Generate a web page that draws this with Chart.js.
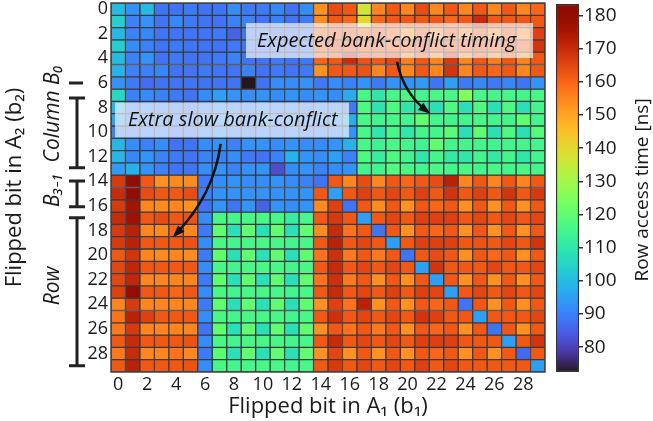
<!DOCTYPE html>
<html>
<head>
<meta charset="utf-8">
<script src="https://cdn.jsdelivr.net/npm/chart.js@4.4.0/dist/chart.umd.min.js"></script>
<style>
  html, body { margin: 0; padding: 0; background: #fff; }
  #wrap { position: relative; width: 653px; height: 421px; }
  #wrap canvas { position: absolute; left: 0; top: 0; }
</style>
</head>
<body>
<div id="wrap">
  <canvas id="heat" width="653" height="421"></canvas>
  <canvas id="cbar" width="653" height="421"></canvas>
</div>
<script>
// flipped bit in A1 (b1) -> columns, flipped bit in A2 (b2) -> rows
const bitLabels = ['0','1','2','3','4','5','6','7','8','9','10','11','12','13','14',
  '15','16','17','18','19','20','21','22','23','24','25','26','27','28','29'];
const rowTicks = [0, 2, 4, 6, 8, 10, 12, 14, 16, 18, 20, 22, 24, 26, 28];
const barTicks = [80, 90, 100, 110, 120, 130, 140, 150, 160, 170, 180];

// row access time [ns], one array per b2
const row00 = [100, 93, 100, 88, 88, 89, 88, 88, 92, 89, 89, 91, 88, 92, 153, 164, 162, 137, 155, 162, 155, 164, 155, 162, 155, 162, 155, 162, 155, 160];
const row01 = [104, 90, 93, 88, 91, 89, 88, 88, 90, 90, 88, 90, 88, 89, 154, 162, 160, 140, 160, 162, 162, 162, 162, 160, 162, 170, 162, 162, 162, 162];
const row02 = [99, 90, 91, 88, 88, 88, 88, 89, 85, 88, 89, 88, 88, 90, 160, 162, 162, 160, 162, 160, 155, 162, 155, 162, 155, 162, 155, 162, 155, 166];
const row03 = [104, 92, 90, 88, 89, 88, 88, 88, 89, 88, 88, 89, 88, 89, 162, 165, 164, 162, 163, 162, 162, 165, 162, 164, 162, 165, 162, 164, 162, 168];
const row04 = [100, 90, 93, 88, 89, 88, 88, 89, 90, 88, 88, 89, 88, 89, 160, 162, 170, 163, 162, 165, 156, 162, 155, 167, 155, 162, 156, 162, 155, 162];
const row05 = [98, 90, 90, 91, 88, 88, 89, 88, 88, 90, 88, 89, 88, 89, 153, 162, 162, 163, 155, 162, 155, 162, 155, 168, 155, 162, 160, 162, 155, 162];
const row06 = [93, 89, 87, 88, 88, 88, 88, 88, 88, 72.5, 88, 92, 92, 93, 89, 92, 90, 93, 89, 93, 93, 94, 88, 95, 89, 91, 89, 91, 88, 93];
const row07 = [106, 90, 92, 90, 89, 88, 92, 95, 93, 92, 93, 92, 93, 92, 93, 92, 97, 116, 110, 116, 116, 115, 116, 116, 125, 116, 115, 116, 115, 116];
const row08 = [98, 90, 91, 90, 89, 88, 90, 92, 91, 90, 92, 90, 91, 90, 91, 90, 89, 117, 109, 117, 110, 110, 108, 117, 108, 117, 108, 117, 108, 115];
const row09 = [96, 90, 92, 91, 90, 89, 92, 93, 92, 91, 93, 92, 93, 92, 92, 93, 97, 116, 115, 116, 115, 120, 115, 115, 115, 116, 115, 115, 120, 115];
const row10 = [90, 89, 90, 90, 88, 88, 90, 91, 90, 89, 90, 89, 90, 89, 90, 90, 93, 116, 110, 116, 110, 115, 115, 119, 108, 120, 108, 117, 108, 118];
const row11 = [99, 92, 90, 92, 88, 88, 92, 93, 90, 93, 93, 92, 93, 92, 92, 93, 98, 116, 114, 116, 115, 114, 120, 115, 115, 115, 114, 115, 115, 115];
const row12 = [99, 91, 93, 90, 89, 88, 90, 90, 92, 89, 88, 90, 98, 93, 92, 95, 90, 117, 112, 117, 115, 110, 115, 111, 110, 115, 111, 115, 110, 115];
const row13 = [94, 98, 93, 90, 88, 88, 92, 93, 90, 93, 93, 82, 92, 93, 90, 92, 93, 115, 115, 118, 116, 115, 116, 115, 116, 115, 116, 115, 116, 115];
const row14 = [167, 183.5, 162, 153, 154, 154, 89, 92, 93, 92, 92, 93, 92, 90, 88, 162, 155, 164, 155, 162, 160, 162, 164, 172, 155, 162, 155, 162, 155, 162];
const row15 = [170, 180, 164, 162, 162, 164, 90, 93, 93, 93, 93, 93, 93, 93, 162, 95, 162, 166, 162, 165, 162, 166, 162, 168, 162, 166, 162, 168, 162, 167];
const row16 = [167, 176, 155, 154, 155, 153, 88, 93, 88, 93, 85, 93, 92, 93, 154, 166, 88, 162, 154, 162, 153, 162, 160, 162, 153, 162, 153, 162, 153, 162];
const row17 = [170, 177, 162, 164, 162, 163, 92, 116, 115, 116, 116, 116, 112, 116, 162, 167, 162, 95, 162, 165, 162, 166, 166, 166, 162, 165, 162, 165, 162, 165];
const row18 = [167, 172, 155, 154, 160, 155, 89, 120, 108, 120, 108, 120, 108, 120, 154, 170, 158, 162, 88, 162, 153, 162, 160, 162, 153, 162, 153, 162, 153, 162];
const row19 = [167, 172, 162, 162, 162, 163, 92, 116, 115, 116, 116, 116, 115, 116, 162, 172, 162, 165, 162, 95, 162, 166, 166, 166, 162, 163, 162, 165, 162, 168];
const row20 = [162, 168, 155, 154, 155, 154, 89, 120, 108, 120, 108, 120, 108, 120, 158, 169, 157, 162, 157, 162, 88, 162, 164, 162, 153, 162, 160, 162, 153, 162];
const row21 = [165, 171, 162, 162, 162, 162, 92, 116, 115, 116, 116, 116, 115, 116, 162, 170, 162, 165, 162, 165, 162, 95, 168, 162, 162, 162, 165, 162, 162, 165];
const row22 = [165, 171, 155, 155, 155, 155, 89, 120, 108, 120, 108, 120, 108, 120, 158, 169, 157, 162, 153, 162, 153, 162, 95, 162, 153, 162, 153, 162, 153, 162];
const row23 = [166, 180, 162, 162, 160, 162, 92, 116, 115, 116, 116, 116, 115, 116, 162, 170, 162, 165, 162, 166, 162, 166, 165, 95, 162, 165, 162, 165, 162, 165];
const row24 = [155, 167, 155, 155, 155, 155, 89, 120, 108, 120, 108, 120, 108, 120, 153, 166, 158, 172, 153, 162, 153, 162, 160, 162, 88, 162, 153, 162, 153, 162];
const row25 = [158, 172, 166, 162, 162, 162, 92, 116, 115, 116, 116, 116, 115, 116, 162, 169, 162, 165, 162, 165, 162, 168, 166, 162, 162, 95, 162, 162, 162, 165];
const row26 = [157, 167, 155, 155, 155, 155, 88, 120, 108, 120, 108, 120, 108, 120, 153, 162, 158, 162, 157, 162, 153, 162, 160, 162, 153, 162, 88, 162, 153, 162];
const row27 = [162, 170, 162, 162, 162, 163, 92, 116, 115, 116, 116, 116, 115, 116, 162, 170, 162, 165, 162, 165, 162, 166, 166, 166, 162, 162, 162, 95, 162, 168];
const row28 = [157, 170, 155, 155, 158, 155, 89, 119, 108, 120, 108, 120, 108, 120, 153, 165, 153, 162, 153, 162, 153, 162, 160, 162, 153, 162, 153, 162, 86, 162];
const row29 = [162, 172, 162, 162, 162, 163, 92, 116, 115, 116, 116, 116, 115, 116, 162, 167, 162, 165, 162, 165, 162, 166, 162, 165, 162, 162, 162, 162, 162, 95];

const rows = [row00, row01, row02, row03, row04, row05, row06, row07, row08, row09,
  row10, row11, row12, row13, row14, row15, row16, row17, row18, row19,
  row20, row21, row22, row23, row24, row25, row26, row27, row28, row29];

const vMin = Math.min(...rows.flat());
const vMax = Math.max(...rows.flat());

const ink = '#1a1a1a';
const family = '"Open Sans", Lato, sans-serif';

// turbo colormap (polynomial fit)
function turbo(t) {
  t = Math.max(0, Math.min(1, t));
  const r = 0.13572138 + t*(4.61539260 + t*(-42.66032258 + t*(132.13108234 + t*(-152.94239396 + t*59.28637943))));
  const g = 0.09140261 + t*(2.19418839 + t*(4.84296658 + t*(-14.18503333 + t*(4.27729857 + t*2.82956604))));
  const b = 0.10667330 + t*(12.64194608 + t*(-60.58204836 + t*(110.36276771 + t*(-89.90310912 + t*27.34824973))));
  const c = v => Math.round(255 * Math.max(0, Math.min(1, v)));
  return 'rgb(' + c(r) + ',' + c(g) + ',' + c(b) + ')';
}
const colorOf = v => turbo((v - vMin) / (vMax - vMin));

function arrow(ctx, x0, y0, cx, cy, x1, y1) {
  ctx.beginPath();
  ctx.moveTo(x0, y0);
  ctx.quadraticCurveTo(cx, cy, x1, y1);
  ctx.stroke();
  const ang = Math.atan2(y1 - cy, x1 - cx);
  ctx.beginPath();
  ctx.moveTo(x1 + 3 * Math.cos(ang), y1 + 3 * Math.sin(ang));
  ctx.lineTo(x1 - 9 * Math.cos(ang) + 4.5 * Math.sin(ang), y1 - 9 * Math.sin(ang) - 4.5 * Math.cos(ang));
  ctx.lineTo(x1 - 9 * Math.cos(ang) - 4.5 * Math.sin(ang), y1 - 9 * Math.sin(ang) + 4.5 * Math.cos(ang));
  ctx.closePath();
  ctx.fill();
}

// brackets, side labels and the two callouts
const heatNotes = {
  id: 'heatNotes',
  afterDraw(chart) {
    const {ctx, chartArea: a} = chart;
    const n = bitLabels.length;
    const X = c => a.left + c * (a.right - a.left) / n;
    const Y = r => a.top + r * (a.bottom - a.top) / n;
    ctx.save();

    // frame
    ctx.strokeStyle = '#444';
    ctx.lineWidth = 1.5;
    ctx.strokeRect(a.left, a.top, a.right - a.left, a.bottom - a.top);

    // brackets left of the row ticks
    ctx.strokeStyle = '#222';
    ctx.lineWidth = 3;
    const bx = 77, cap = 8;
    ctx.beginPath();
    ctx.moveTo(bx - cap, Y(6.5)); ctx.lineTo(bx + 6, Y(6.5));
    [[7.72, 13.39], [14.47, 16.56], [17.46, 29.5]].forEach(([r0, r1]) => {
      ctx.moveTo(bx, Y(r0)); ctx.lineTo(bx, Y(r1));
      ctx.moveTo(bx - cap, Y(r0)); ctx.lineTo(bx + cap, Y(r0));
      ctx.moveTo(bx - cap, Y(r1)); ctx.lineTo(bx + cap, Y(r1));
    });
    ctx.stroke();

    ctx.fillStyle = ink;
    ctx.textAlign = 'center';
    ctx.textBaseline = 'middle';
    ctx.font = 'italic 21px ' + family;
    [['Column B\u2080', 9.0], ['B\u2083\u208B\u2081', 15.2], ['Row', 23]].forEach(([t, r]) => {
      ctx.save();
      ctx.translate(53, Y(r));
      ctx.rotate(-Math.PI / 2);
      ctx.fillText(t, 0, 0);
      ctx.restore();
    });

    // callout boxes
    ctx.fillStyle = 'rgba(255,255,255,0.66)';
    ctx.fillRect(X(9.33), Y(1.63), X(29.17) - X(9.33), Y(4.47) - Y(1.63));
    ctx.fillRect(X(0.28), Y(8.1), X(16.45) - X(0.28), Y(10.92) - Y(8.1));
    ctx.fillStyle = '#111';
    ctx.textAlign = 'left';
    ctx.textBaseline = 'alphabetic';
    ctx.font = 'italic 20px ' + family;
    ctx.fillText('Expected bank-conflict timing', X(10.09), Y(3.55));
    ctx.fillText('Extra slow bank-conflict', X(1.17), Y(10.04));

    ctx.strokeStyle = '#111';
    ctx.lineWidth = 2.5;
    arrow(ctx, X(19.77), Y(4.77), X(20.22), Y(7.35), X(21.9), Y(8.84));
    arrow(ctx, X(7.58), Y(11.46), X(7.12), Y(15.6), X(4.42), Y(18.86));
    ctx.restore();
  }
};

new Chart(document.getElementById('heat'), {
  type: 'bar',
  data: {
    labels: bitLabels,
    datasets: rows.map((vals, i) => ({
      label: 'b2 = ' + i,
      data: vals.map(() => 1),
      backgroundColor: vals.map(colorOf),
      borderColor: '#3a3a3a',
      borderWidth: 1,
      borderSkipped: false,
      barPercentage: 1,
      categoryPercentage: 1
    }))
  },
  options: {
    responsive: false,
    animation: false,
    events: [],
    layout: { padding: { top: 3, right: 108, left: 0, bottom: 0 } },
    plugins: { legend: { display: false }, tooltip: { enabled: false } },
    scales: {
      x: {
        stacked: true,
        grid: { display: false, drawTicks: false },
        border: { display: false },
        ticks: {
          autoSkip: false, maxRotation: 0, padding: 2, color: ink,
          font: { family: family, size: 18 },
          callback: (v, i) => i % 2 === 0 ? bitLabels[i] : ''
        },
        title: {
          display: true, text: 'Flipped bit in A\u2081 (b\u2081)', color: ink,
          font: { family: family, size: 22 }, padding: { top: 0, bottom: 1 }
        },
        afterFit: s => { s.height = 49; s.paddingLeft = 0; s.paddingRight = 0; }
      },
      y: {
        stacked: true, min: 0, max: 30, reverse: true,
        grid: { display: false, drawTicks: false },
        border: { display: false },
        afterBuildTicks: s => { s.ticks = rowTicks.map(v => ({ value: v + 0.5 })); },
        ticks: {
          autoSkip: false, padding: 3, color: ink,
          font: { family: family, size: 18 },
          callback: v => String(v - 0.5)
        },
        title: {
          display: true, text: 'Flipped bit in A\u2082 (b\u2082)', color: ink,
          font: { family: family, size: 22 }, padding: { top: 2, bottom: 0 }
        },
        afterFit: s => { s.width = 111; s.paddingTop = 0; s.paddingBottom = 0; }
      }
    }
  },
  plugins: [heatNotes]
});

// colour bar
const barTitle = {
  id: 'barTitle',
  afterDraw(chart) {
    const {ctx, chartArea: a} = chart;
    ctx.save();
    ctx.fillStyle = ink;
    ctx.font = '19px ' + family;
    ctx.textAlign = 'center';
    ctx.textBaseline = 'middle';
    ctx.translate(643, (a.top + a.bottom) / 2 + 2);
    ctx.rotate(-Math.PI / 2);
    ctx.fillText('Row access time [ns]', 0, 0);
    ctx.restore();
  }
};

new Chart(document.getElementById('cbar'), {
  type: 'bar',
  data: {
    labels: ['Row access time'],
    datasets: [{
      data: [[vMin, vMax]],
      backgroundColor: c => {
        const chart = c.chart;
        const s = chart.scales.y;
        if (!chart.chartArea || !s) return '#888';
        const g = chart.ctx.createLinearGradient(0, s.getPixelForValue(vMin), 0, s.getPixelForValue(vMax));
        for (let i = 0; i <= 50; i++) g.addColorStop(i / 50, turbo(i / 50));
        return g;
      },
      borderColor: '#333',
      borderWidth: 1.5,
      borderSkipped: false,
      barPercentage: 1,
      categoryPercentage: 1
    }]
  },
  options: {
    responsive: false,
    animation: false,
    events: [],
    layout: { padding: { left: 556, top: 4, bottom: 49, right: 0 } },
    plugins: { legend: { display: false }, tooltip: { enabled: false } },
    scales: {
      x: { display: false },
      y: {
        position: 'right', min: vMin, max: vMax,
        afterBuildTicks: s => { s.ticks = barTicks.map(v => ({ value: v })); },
        grid: { drawOnChartArea: false, drawTicks: true, tickLength: 4, color: '#333', lineWidth: 1.5 },
        border: { display: false },
        ticks: { padding: 1, color: ink, font: { family: family, size: 19 } },
        afterFit: s => { s.width = 74; s.paddingTop = 0; s.paddingBottom = 0; }
      }
    }
  },
  plugins: [barTitle]
});
</script>
</body>
</html>
